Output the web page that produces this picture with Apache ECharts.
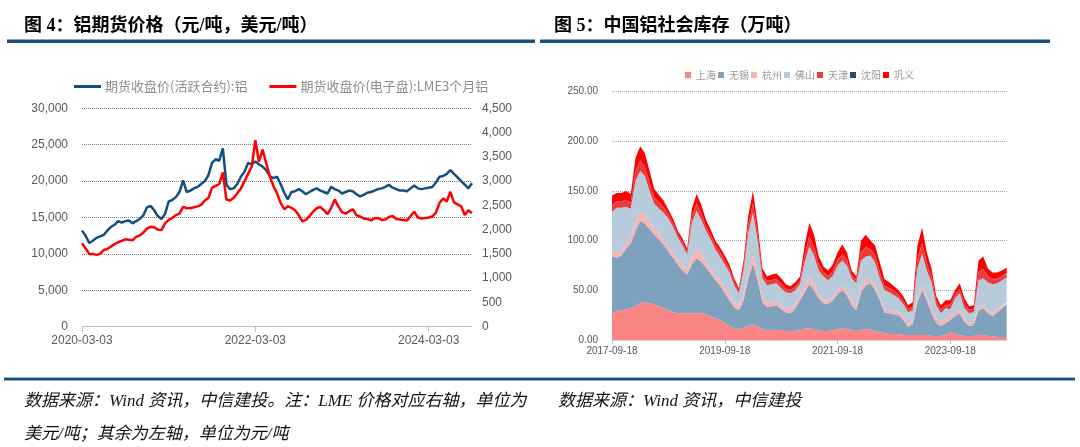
<!DOCTYPE html>
<html>
<head>
<meta charset="utf-8">
<title>铝期货价格与中国铝社会库存</title>
<script src="https://cdn.jsdelivr.net/npm/echarts@6.0.0/dist/echarts.min.js"></script>
<style>
  html, body { margin: 0; padding: 0; background: #fff; }
  #main { width: 1080px; height: 447px; }
</style>
</head>
<body>
<div id="main"></div>
<script>
// ---- 图4：铝期货价格（半月取样）----
const priceDates = [
  '2020-03-03','2020-03-18','2020-04-03','2020-04-18','2020-05-03','2020-05-18','2020-06-03','2020-06-18','2020-07-03','2020-07-18',
  '2020-08-03','2020-08-18','2020-09-03','2020-09-18','2020-10-03','2020-10-18','2020-11-03','2020-11-18','2020-12-03','2020-12-18',
  '2021-01-03','2021-01-18','2021-02-03','2021-02-18','2021-03-03','2021-03-18','2021-04-03','2021-04-18','2021-05-03','2021-05-18',
  '2021-06-03','2021-06-18','2021-07-03','2021-07-18','2021-08-03','2021-08-18','2021-09-03','2021-09-18','2021-10-03','2021-10-18',
  '2021-11-03','2021-11-18','2021-12-03','2021-12-18','2022-01-03','2022-01-18','2022-02-03','2022-02-18','2022-03-03','2022-03-18',
  '2022-04-03','2022-04-18','2022-05-03','2022-05-18','2022-06-03','2022-06-18','2022-07-03','2022-07-18','2022-08-03','2022-08-18',
  '2022-09-03','2022-09-18','2022-10-03','2022-10-18','2022-11-03','2022-11-18','2022-12-03','2022-12-18','2023-01-03','2023-01-18',
  '2023-02-03','2023-02-18','2023-03-03','2023-03-18','2023-04-03','2023-04-18','2023-05-03','2023-05-18','2023-06-03','2023-06-18',
  '2023-07-03','2023-07-18','2023-08-03','2023-08-18','2023-09-03','2023-09-18','2023-10-03','2023-10-18','2023-11-03','2023-11-18',
  '2023-12-03','2023-12-18','2024-01-03','2024-01-18','2024-02-03','2024-02-18','2024-03-03','2024-03-18','2024-04-03','2024-04-18',
  '2024-05-03','2024-05-18','2024-06-03','2024-06-18','2024-07-03','2024-07-18','2024-08-03','2024-08-18','2024-09-03'
];
const priceLabels = ['2020-03-03', '2022-03-03', '2024-03-03'];

// 期货收盘价(活跃合约):铝，元/吨，左轴
const shfeAl = [
  13200,12500,11500,11800,12200,12400,12600,13200,13700,14000,
  14500,14300,14500,14600,14200,14500,14800,15300,16400,16600,
  16000,15200,14800,15500,17200,17400,17800,18500,20100,18500,
  18700,19000,19200,19600,20000,20800,22500,23000,22800,24500,
  19500,18900,19000,19600,20600,21300,22500,22300,22700,22300,
  22000,21500,20700,20400,20600,19600,18400,17500,18500,18600,
  18900,18600,18200,18500,18800,19000,18700,18500,18300,19200,
  18900,18700,18300,18500,18700,18600,18200,17900,18100,18400,
  18500,18700,18900,19000,19200,19500,19100,18900,18700,18700,
  18600,19000,19400,19000,18900,19000,19100,19200,19800,20600,
  20700,21000,21500,21000,20500,20000,19500,19000,19700
];
// 期货收盘价(电子盘):LME3个月铝，美元/吨，右轴
const lmeAl = [
  1720,1610,1500,1500,1480,1500,1580,1600,1650,1700,
  1740,1770,1800,1790,1780,1850,1880,1940,2020,2060,
  2050,2000,1990,2130,2200,2240,2300,2330,2470,2440,
  2440,2460,2480,2510,2600,2650,2860,2900,2940,3180,
  2620,2600,2650,2750,2850,3000,3150,3300,3840,3400,
  3650,3370,3100,2900,2750,2550,2420,2480,2450,2400,
  2300,2170,2200,2280,2370,2440,2470,2400,2320,2450,
  2620,2480,2360,2330,2380,2420,2300,2270,2230,2220,
  2190,2230,2240,2200,2210,2260,2280,2220,2210,2200,
  2190,2280,2370,2250,2230,2240,2250,2270,2350,2550,
  2640,2580,2780,2560,2520,2480,2300,2400,2340
];

// ---- 图5：中国铝社会库存（万吨，月度取样）----
const stockDates = [
  '2017-09-18','2017-10-18','2017-11-18','2017-12-18',
  '2018-01-18','2018-02-18','2018-03-18','2018-04-18','2018-05-18','2018-06-18','2018-07-18','2018-08-18','2018-09-18','2018-10-18','2018-11-18','2018-12-18',
  '2019-01-18','2019-02-18','2019-03-18','2019-04-18','2019-05-18','2019-06-18','2019-07-18','2019-08-18','2019-09-18','2019-10-18','2019-11-18','2019-12-18',
  '2020-01-18','2020-02-18','2020-03-18','2020-04-18','2020-05-18','2020-06-18','2020-07-18','2020-08-18','2020-09-18','2020-10-18','2020-11-18','2020-12-18',
  '2021-01-18','2021-02-18','2021-03-18','2021-04-18','2021-05-18','2021-06-18','2021-07-18','2021-08-18','2021-09-18','2021-10-18','2021-11-18','2021-12-18',
  '2022-01-18','2022-02-18','2022-03-18','2022-04-18','2022-05-18','2022-06-18','2022-07-18','2022-08-18','2022-09-18','2022-10-18','2022-11-18','2022-12-18',
  '2023-01-18','2023-02-18','2023-03-18','2023-04-18','2023-05-18','2023-06-18','2023-07-18','2023-08-18','2023-09-18','2023-10-18','2023-11-18','2023-12-18',
  '2024-01-18','2024-02-18','2024-03-18','2024-04-18','2024-05-18','2024-06-18','2024-07-18','2024-08-18','2024-09-18'
];
const stockLabels = ['2017-09-18', '2019-09-18', '2021-09-18', '2023-09-18'];

const shanghai = [
  27,29,30,31,32,34,37,38,37,36, 34,32,30,28,27,27,27,27,27,27,
  26,24,22,20,17,14,12,11,12,14, 16,13,11,10,10,10,10,9,9,9,
  10,11,12,11,10,9,9,10,11,12, 11,10,9,10,11,10,9,8,7,6,
  6,6,5,5,5,5,5,5,4,4, 4,5,8,6,5,4,4,4,5,5, 4,4,3,3,3
];
const wuxi = [
  57,54,55,61,65,76,83,79,75,70, 67,64,59,55,49,43,39,49,55,52,
  47,43,38,35,30,26,21,19,28,48, 61,47,27,23,24,25,21,19,18,23,
  30,37,44,39,32,28,27,30,35,38, 34,25,21,38,44,47,41,32,21,21,
  20,19,15,8,11,33,45,35,23,13, 10,12,12,18,22,14,10,11,25,27, 23,20,25,29,33
];
const hangzhou = [
  5,5,5,5,7,8,9,9,7,6, 6,5,5,5,5,5,5,7,9,8,
  5,5,5,5,6,6,5,5,6,8, 8,7,6,5,4,3,4,4,5,4,
  5,6,7,6,4,3,4,4,4,4, 4,5,5,6,5,4,5,4,3,3,
  3,3,4,4,3,5,5,4,5,5, 4,4,4,4,3,4,3,3,4,3, 3,3,3,3,2
];
const foshan = [
  40,45,43,37,28,42,41,39,31,25, 25,27,28,26,22,20,15,35,39,34,
  32,29,26,24,23,22,17,12,24,38, 43,33,18,17,18,19,17,16,15,14,
  11,24,31,29,24,24,20,21,25,26, 26,22,22,26,24,24,23,18,19,18,
  16,14,12,11,11,29,32,26,26,13, 9,11,7,14,17,10,10,10,26,27, 28,29,26,25,25
];
const tianjin = [
  6,6,6,6,6,9,10,9,8,6, 6,5,4,3,3,3,2,6,7,6,
  4,4,4,4,4,3,3,2,4,7, 9,6,4,4,4,4,4,3,3,3,
  3,7,10,8,6,4,4,4,5,6, 5,3,3,8,9,6,7,6,4,4,
  4,3,3,3,3,9,10,7,6,4, 3,3,4,3,4,4,3,3,8,9, 6,5,4,4,4
];
const shenyang = [
  0.5,0.5,0.5,0.5,0.5,0.5,0.5,0.5,0.5,0.5, 0.5,0.5,0.5,0.5,0.5,0.5,0.5,0.5,0.5,0.5,
  0.5,0.5,0.5,0.5,0.5,0.5,0.5,0.5,0.5,0.5, 0.5,0.5,0.5,0.5,0.5,0.5,0.5,0.5,0.5,0.5,
  0.5,0.5,0.5,0.5,0.5,0.5,0.5,0.5,0.5,0.5, 0.5,0.5,0.5,0.5,0.5,0.5,0.5,0.5,0.5,0.5,
  0.5,0.5,0.5,0.5,0.5,0.5,0.5,0.5,0.5,0.5, 0.5,0.5,0.5,0.5,0.5,0.5,0.5,0.5,0.5,0.5, 0.5,0.5,0.5,0.5,0.5
];
const gongyi = [
  9.5,8.5,8.5,9.5,8.5,13.5,14.5,13.5,11.5,8.5, 7.5,6.5,4.5,4.5,3.5,3.5,3.5,7.5,9.5,8.5,
  6.5,5.5,4.5,4.5,4.5,4.5,3.5,2.5,5.5,9.5, 12.5,9.5,5.5,4.5,5.5,5.5,5.5,4.5,3.5,4.5,
  4.5,9.5,13.5,12.5,7.5,5.5,5.5,6.5,7.5,9.5, 7.5,4.5,3.5,11.5,12.5,8.5,9.5,9.5,6.5,5.5,
  4.5,4.5,4.5,3.5,4.5,13.5,15.5,10.5,7.5,4.5, 4.5,4.5,4.5,4.5,5.5,5.5,3.5,3.5,11.5,12.5, 7.5,6.5,6.5,5.5,5.5
];

const stockNames = ['上海', '无锡', '杭州', '佛山', '天津', '沈阳', '巩义'];
const stockColors = ['#fb8484', '#7ea2bd', '#f8b4b4', '#b8cbda', '#f03a3a', '#1f4e79', '#ff0000'];

const SANS = '"Liberation Sans", Arial, "Noto Sans CJK SC", sans-serif';
const CJK = '"Noto Sans CJK SC", sans-serif';
const SERIF = '"Liberation Serif", "Noto Sans CJK SC", serif';
const thousands = v => v.toLocaleString('en-US');

const chart = echarts.init(document.getElementById('main'), null, { renderer: 'canvas' });

const stockData = [shanghai, wuxi, hangzhou, foshan, tianjin, shenyang, gongyi];
const stockSeries = stockNames.map((name, i) => ({
  name: name,
  type: 'line',
  xAxisIndex: 1,
  yAxisIndex: 2,
  stack: 'stock',
  data: stockData[i],
  symbol: 'none',
  lineStyle: { width: 0 },
  areaStyle: { color: stockColors[i], opacity: 1 },
  itemStyle: { color: stockColors[i] }
}));

const noteStyle = { fontSize: 17, fontWeight: 'normal', fontStyle: 'italic', color: '#111', fontFamily: SERIF };

const option = {
  animation: false,
  backgroundColor: '#fff',
  title: [
    { text: '图 4：铝期货价格（元/吨，美元/吨）', left: 19, top: 12,
      textStyle: { fontSize: 18, fontWeight: 'bold', color: '#000', fontFamily: SERIF } },
    { text: '图 5：中国铝社会库存（万吨）', left: 549, top: 12,
      textStyle: { fontSize: 18, fontWeight: 'bold', color: '#000', fontFamily: SERIF } },
    { text: '数据来源：Wind 资讯，中信建投。注：LME 价格对应右轴，单位为', left: 19, top: 388, textStyle: noteStyle },
    { text: '美元/吨；其余为左轴，单位为元/吨', left: 19, top: 421, textStyle: noteStyle },
    { text: '数据来源：Wind 资讯，中信建投', left: 553, top: 388, textStyle: noteStyle }
  ],
  graphic: [
    { type: 'rect', shape: { x: 7, y: 39.5, width: 528, height: 3.5 }, style: { fill: '#1a5080' } },
    { type: 'rect', shape: { x: 540, y: 39.5, width: 510, height: 3.5 }, style: { fill: '#1a5080' } },
    { type: 'rect', shape: { x: 4, y: 377, width: 1071, height: 1 }, style: { fill: '#9cbad4' } },
    { type: 'rect', shape: { x: 4, y: 378, width: 1071, height: 2.5 }, style: { fill: '#1a4f7d' } }
  ],
  legend: [
    { data: ['期货收盘价(活跃合约):铝', '期货收盘价(电子盘):LME3个月铝'],
      left: 69, top: 75, icon: 'rect', itemWidth: 27, itemHeight: 3, itemGap: 22,
      textStyle: { fontSize: 13, color: '#8c8c8c', fontFamily: CJK, padding: [0, 0, 0, -1] } },
    { data: stockNames, left: 680, top: 65, icon: 'rect', itemWidth: 6, itemHeight: 6, itemGap: 2,
      textStyle: { fontSize: 10, color: '#9a9a9a', fontFamily: CJK } }
  ],
  grid: [
    { left: 82, right: 608, top: 108.3, bottom: 120.3 },
    { left: 612, right: 73.3, top: 91.5, bottom: 107 }
  ],
  xAxis: [
    { gridIndex: 0, type: 'category', data: priceDates, boundaryGap: false,
      axisLine: { lineStyle: { color: '#bfbfbf', width: 1 } },
      axisTick: { interval: (i, v) => priceLabels.includes(v), length: 5, lineStyle: { color: '#bfbfbf' } },
      axisLabel: { interval: (i, v) => priceLabels.includes(v), color: '#595959', fontSize: 12, fontFamily: SANS, margin: 8 },
      splitLine: { show: false } },
    { gridIndex: 1, type: 'category', data: stockDates, boundaryGap: false,
      axisLine: { lineStyle: { color: '#d0d0d0', width: 1 } },
      axisTick: { interval: (i, v) => stockLabels.includes(v), length: 4, lineStyle: { color: '#bfbfbf' } },
      axisLabel: { interval: (i, v) => stockLabels.includes(v), color: '#595959', fontSize: 10, fontFamily: SANS, margin: 6 },
      splitLine: { show: false } }
  ],
  yAxis: [
    { gridIndex: 0, type: 'value', min: 0, max: 30000, interval: 5000,
      axisLine: { show: false }, axisTick: { show: false },
      axisLabel: { formatter: thousands, color: '#595959', fontSize: 12, fontFamily: SANS, margin: 14 },
      splitLine: { lineStyle: { color: '#7f7f7f', type: 'dotted', width: 1 } } },
    { gridIndex: 0, type: 'value', position: 'right', min: 0, max: 4500, interval: 500,
      axisLine: { show: false }, axisTick: { show: false },
      axisLabel: { formatter: thousands, color: '#595959', fontSize: 12, fontFamily: SANS, margin: 10 },
      splitLine: { show: false } },
    { gridIndex: 1, type: 'value', min: 0, max: 250, interval: 50,
      axisLine: { show: false }, axisTick: { show: false },
      axisLabel: { formatter: v => v.toFixed(2), color: '#595959', fontSize: 10, fontFamily: SANS, margin: 14 },
      splitLine: { lineStyle: { color: '#a6a6a6', type: 'dotted', width: 1 } } }
  ],
  series: [
    { name: '期货收盘价(活跃合约):铝', type: 'line', xAxisIndex: 0, yAxisIndex: 0,
      data: shfeAl, symbol: 'none', color: '#124f7d', lineStyle: { width: 2.5, color: '#124f7d' } },
    { name: '期货收盘价(电子盘):LME3个月铝', type: 'line', xAxisIndex: 0, yAxisIndex: 1,
      data: lmeAl, symbol: 'none', color: '#ff0000', lineStyle: { width: 2.5, color: '#ff0000' } }
  ].concat(stockSeries)
};

chart.setOption(option);
window.addEventListener('resize', () => chart.resize());
</script>
</body>
</html>
